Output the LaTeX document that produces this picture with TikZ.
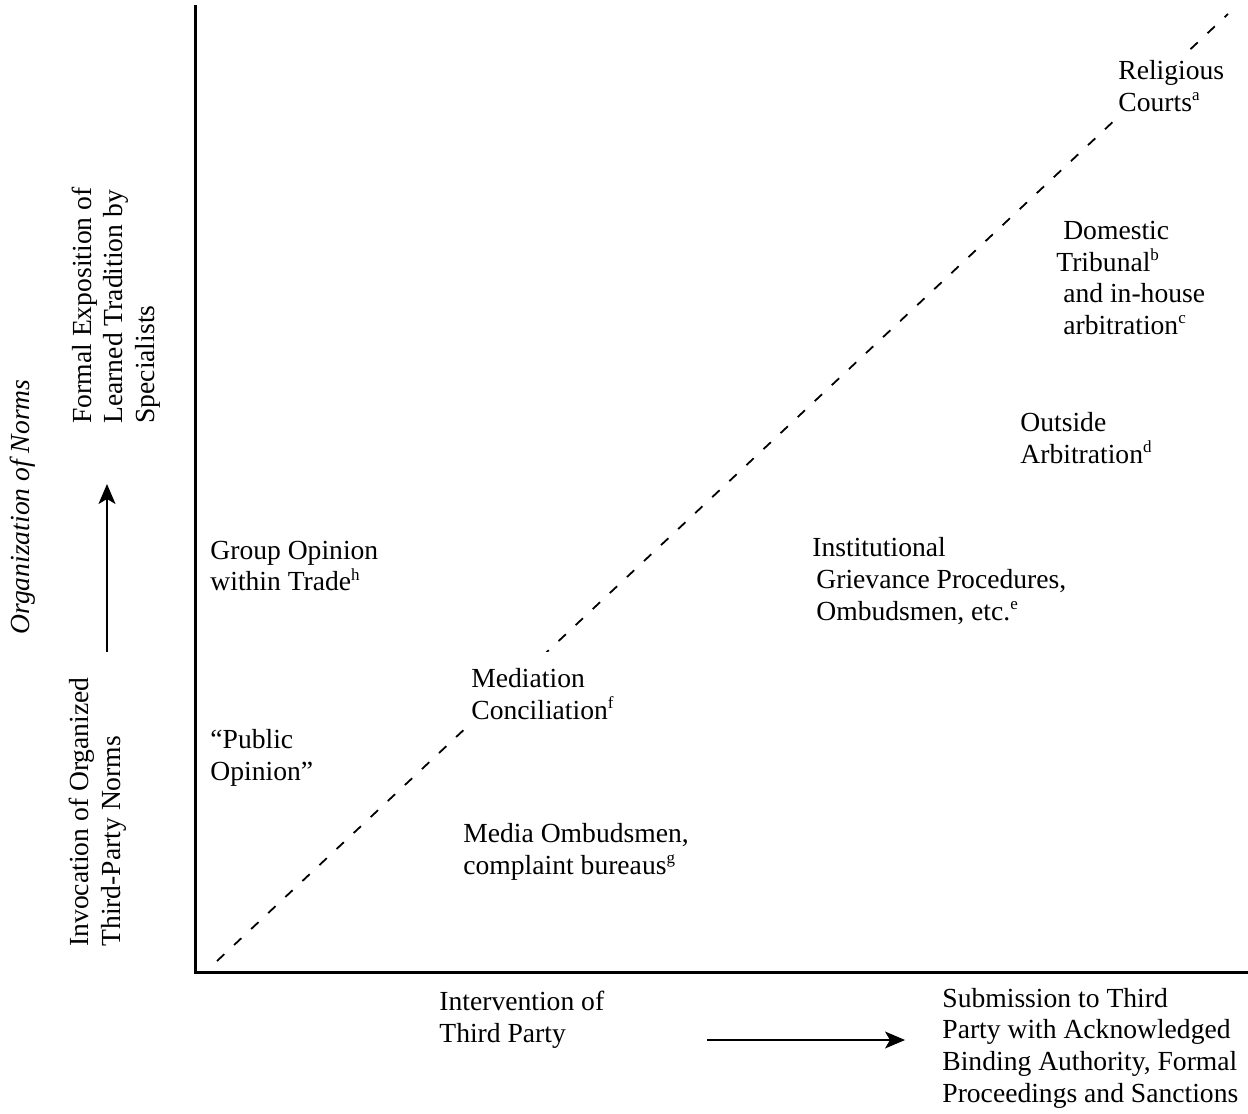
\documentclass[tikz,border=0pt]{standalone}
\usepackage{fontspec}
\setmainfont{Liberation Serif}
\usetikzlibrary{arrows.meta,positioning}

\newcommand{\noteref}[1]{\textsuperscript{\fontsize{8.5}{8.5}\selectfont #1}}

\tikzset{
  txt/.style={align=left,inner xsep=0pt,inner ysep=4pt,fill=white,
    font=\fontsize{13.8}{15.8}\selectfont},
  side/.style={txt,rotate=90,anchor=west,fill=none},
  axis/.style={line width=1.5pt},
  diag/.style={dash pattern=on 5pt off 6.7pt,line width=0.9pt},
  dir/.style={-{Stealth[length=10pt,width=8.5pt,inset=2.5pt]},line width=0.6pt}
}

\begin{document}
\begin{tikzpicture}[x=0.5pt,y=-0.5pt]
\useasboundingbox (0,0) rectangle (1248,1114);

% axes and diagonal
\coordinate (ytop) at (195,5);
\coordinate (orig) at (195,972);
\coordinate (xend) at (1248,972);
\coordinate (dlo) at (217,961);
\coordinate (dhi) at (1228,14);
\draw[diag] (dlo) -- (dhi);
\draw[axis] (ytop) -- (orig) -- (xend);

% entries
\node[txt,anchor=west] (relig) at (1118,86) {Religious\\Courts\noteref{a}};
\node[txt,anchor=west] (domestic) at (1056,278) {\ Domestic\\Tribunal\noteref{b}\\\ and in-house\\\ arbitration\noteref{c}};
\node[txt,anchor=west] (outside) at (1020,438) {Outside\\Arbitration\noteref{d}};
\node[txt,anchor=west] (instit) at (812,581) {Institutional\\\hspace{2pt}Grievance Procedures,\\\hspace{2pt}Ombudsmen, etc.\noteref{e}};
\node[txt,anchor=west] (group) at (210,566) {Group Opinion\\within Trade\noteref{h}};
\node[txt,anchor=west,inner ysep=8pt] (mediation) at (471,694) {Mediation\\Conciliation\noteref{f}};
\node[txt,anchor=west] (public) at (210,758) {``Public\\Opinion''};
\node[txt,anchor=west] (media) at (463,852) {Media Ombudsmen,\\complaint bureaus\noteref{g}};

% horizontal axis labels
\node[txt,anchor=west] (interv) at (439,1020) {Intervention of\\Third Party};
\node[txt,anchor=west] (submit) at (942,1048) {Submission to Third\\Party with Acknowledged\\Binding Authority, Formal\\Proceedings and Sanctions};
\coordinate (hfrom) at (707,1040);
\coordinate (hto) at (905,1040);
\draw[dir] (hfrom) -- (hto);

% vertical axis labels
\node[side] (formal) at (116,424) {Formal Exposition of\\Learned Tradition by\\Specialists};
\node[side] (invoc) at (98,947) {Invocation of Organized\\Third-Party Norms};
\node[side,font=\fontsize{13.8}{15.8}\selectfont\itshape,anchor=center] (orgnorms) at (23,507) {Organization of Norms};
\coordinate (vfrom) at (107,652);
\coordinate (vto) at (107,484);
\draw[dir] (vfrom) -- (vto);
\end{tikzpicture}
\end{document}
